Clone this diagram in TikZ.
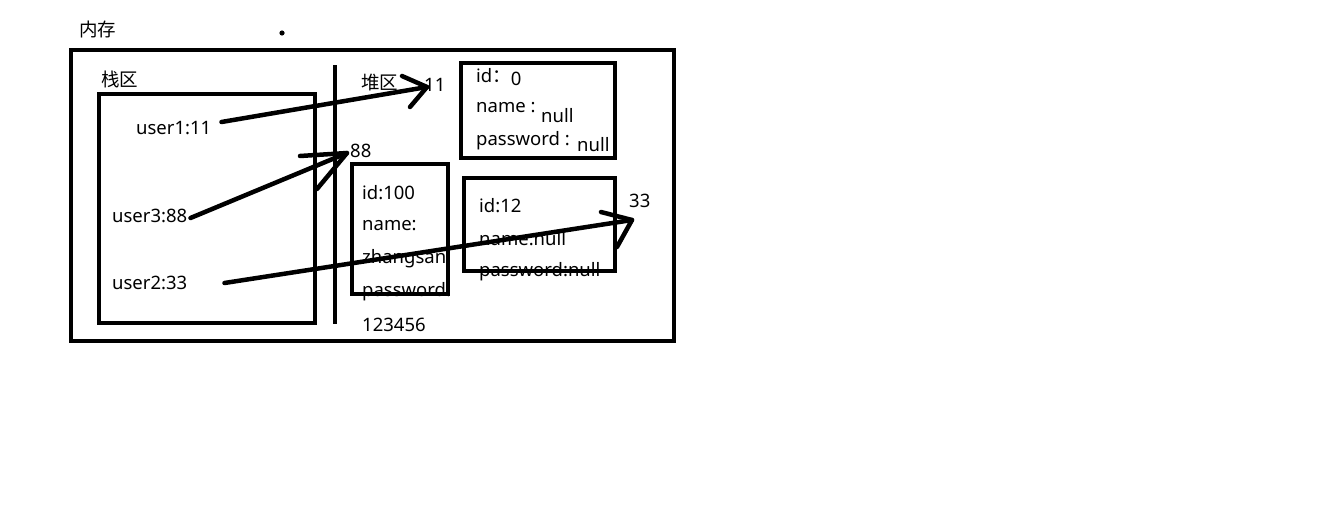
\documentclass[tikz,border=0pt]{standalone}
\usepackage{fontspec}
\setmainfont{Noto Sans}
\newfontfamily\cjk{Noto Sans CJK SC}
\begin{document}
\begin{tikzpicture}[x=1pt,y=-1pt,
  box/.style={draw,line width=4.5pt},
  pen/.style={line width=4.5pt,line cap=round,line join=round},
  lbl/.style={anchor=west,inner sep=0pt,font=\fontsize{18.5}{19}\selectfont},
  zh/.style={anchor=west,inner sep=0pt,font=\cjk\fontsize{18.5}{19}\selectfont}]
\useasboundingbox (0,0) rectangle (1324,530);
% labels
\node[zh] (mem) at (79,29) {内存};
\fill (282,33) circle (2.6);
\draw[box] (71,50) rectangle (674,341);
\node[zh] (stack) at (101,79) {栈区};
\draw[box] (99,94) rectangle (315,323);
\draw[line width=3.5pt] (335,65) -- (335,324);
\node[zh] (heap) at (361,83) {堆区};
\node[lbl] (h11) at (424,85) {11};
\node[lbl] (h88) at (350,151) {88};
\node[lbl] (h33) at (629,201) {33};
% box 11
\draw[box] (461,63) rectangle (615,158);
\node[lbl] (id0) at (476,77) {id{\cjk ：}\raisebox{-2.5pt}{0}};
\node[lbl] (nm0) at (476,108) {name :};
\node[lbl] (nm0v) at (541,116) {null};
\node[lbl] (pw0) at (476,141) {password :};
\node[lbl] (pw0v) at (577,145) {null};
% box 88
\draw[box] (352,164) rectangle (448,294);
\node[lbl] (id1) at (362,193) {id:100};
\node[lbl] (nm1) at (362,226) {name:};
\node[lbl] (zs) at (362,259) {zhangsan};
\node[lbl] (pw1) at (362,292) {password:};
\node[lbl] (pw1v) at (362,325) {123456};
% box 33
\draw[box] (464,178) rectangle (615,271);
\node[lbl] (id2) at (479,206) {id:12};
\node[lbl] (nm2) at (479,239) {name:null};
\node[lbl] (pw2) at (479,272) {password:null};
% stack entries
\node[lbl] (u1) at (136,128) {user1:11};
\node[lbl] (u3) at (112,216) {user3:88};
\node[lbl] (u2) at (112,283) {user2:33};
% arrows
\coordinate (t1) at (427,87);
\coordinate (t3) at (347,153);
\coordinate (t2) at (632,220);
\draw[pen] ([xshift=10pt,yshift=6pt]u1.east) -- (t1);
\draw[pen] (402,76) -- (t1) -- (410,107);
\draw[pen] ([xshift=3pt,yshift=-2pt]u3.east) -- (t3);
\draw[pen] (300,156) -- (t3) -- (317,189);
\draw[pen] ([xshift=37pt]u2.east) -- (t2);
\draw[pen] (601,212) -- (t2) -- (617,247);
\end{tikzpicture}
\end{document}
